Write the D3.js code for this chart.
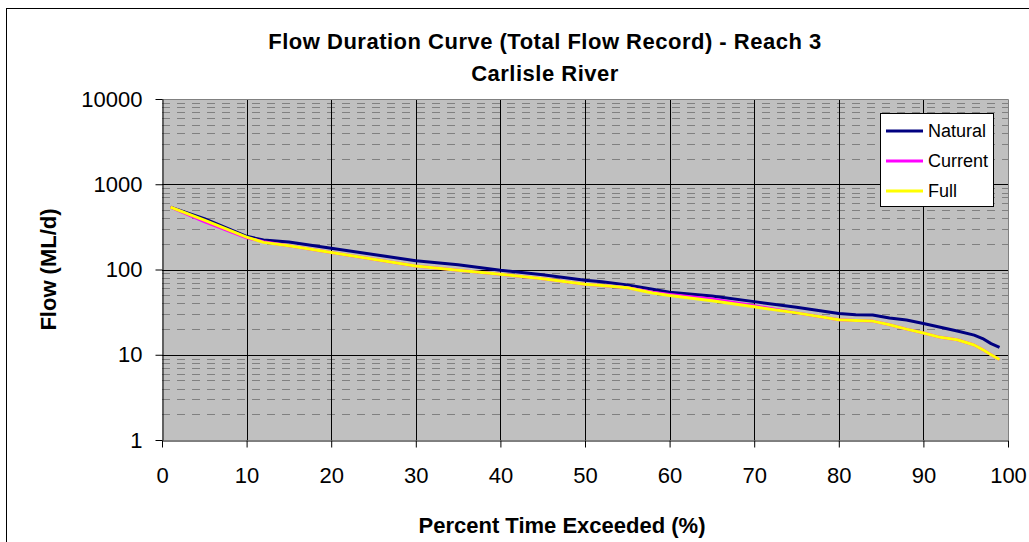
<!DOCTYPE html>
<html>
<head>
<meta charset="utf-8">
<script src="https://cdn.jsdelivr.net/npm/d3@7"></script>
<style>
  body { margin: 0; background: #fff; }
  svg { display: block; font-family: "Liberation Sans", Arial, sans-serif; }
</style>
</head>
<body>
<svg id="chart" width="1029" height="542"></svg>
<script>
// percent of time exceeded
var percents = [1, 5, 10, 12, 15, 20, 25, 30, 35, 40, 45, 50, 52, 55, 58, 60, 65, 70, 75, 80, 82, 84, 86, 88, 90, 92, 94, 96, 97, 98, 99];

// flow (ML/d) per scenario
var naturalFlow = [540, 395, 245, 222, 210, 178, 150, 127, 114, 98, 87, 75, 72, 66, 58.5, 54, 49, 42, 36, 30.5, 29.5, 29.3, 27, 25.5, 23.3, 21, 19, 17, 15.5, 13.5, 12.2];
var currentFlow = [540, 365, 235, 212, 190, 158, 132, 110, 98, 88, 78, 67, 65, 61, 54, 51, 45, 37.5, 31, 25.7, 25.3, 24.8, 22.5, 20, 18, 16, 15, 13, 11.5, 10, 8.8];
var fullFlow = [540, 380, 240, 208, 190, 158, 132, 110, 98, 88, 78, 67, 65, 61, 53, 49.5, 43, 36.5, 31, 25.7, 25.3, 24.8, 22.5, 20, 18, 16, 15, 13, 11.5, 10, 8.8];

var seriesNames = ['Natural', 'Current', 'Full'];
var seriesColors = ['#000080', '#ff00ff', '#ffff00'];
var xTicks = [0, 10, 20, 30, 40, 50, 60, 70, 80, 90, 100];
var yTicks = [1, 10, 100, 1000, 10000];

var plot = { left: 162, right: 1008, top: 99, bottom: 440 };

var svg = d3.select('#chart');

// outer chart border (chart area runs past the picture edge)
svg.append('rect')
  .attr('x', 6.5).attr('y', 8.5)
  .attr('width', 1100).attr('height', 600)
  .attr('fill', '#fff').attr('stroke', '#000').attr('stroke-width', 1);

var x = d3.scaleLinear().domain([0, 100]).range([plot.left, plot.right]);
var y = d3.scaleLog().domain([1, 10000]).range([plot.bottom, plot.top]);

svg.append('rect')
  .attr('x', plot.left).attr('y', plot.top)
  .attr('width', plot.right - plot.left).attr('height', plot.bottom - plot.top)
  .attr('fill', '#c0c0c0');

// minor gridlines (2..9 in every decade)
var minorTicks = [];
yTicks.slice(0, -1).forEach(function(d) {
  for (var k = 2; k <= 9; k++) minorTicks.push(d * k);
});

var grid = svg.append('g');
grid.selectAll('.minor').data(minorTicks).enter()
  .append('line').classed('minor', true)
  .attr('x1', plot.left).attr('x2', plot.right)
  .attr('y1', function(d) { return Math.round(y(d)) + 0.5; })
  .attr('y2', function(d) { return Math.round(y(d)) + 0.5; })
  .attr('stroke', '#808080').attr('stroke-dasharray', '8,7');

grid.selectAll('.hmajor').data(yTicks.slice(1, -1)).enter()
  .append('line').classed('hmajor', true)
  .attr('x1', plot.left).attr('x2', plot.right)
  .attr('y1', function(d) { return Math.round(y(d)) + 0.5; })
  .attr('y2', function(d) { return Math.round(y(d)) + 0.5; })
  .attr('stroke', '#000');

grid.selectAll('.vmajor').data(xTicks.slice(1, -1)).enter()
  .append('line').classed('vmajor', true)
  .attr('y1', plot.top).attr('y2', plot.bottom)
  .attr('x1', function(d) { return Math.round(x(d)) + 0.5; })
  .attr('x2', function(d) { return Math.round(x(d)) + 0.5; })
  .attr('stroke', '#000');

// plot border (top / right in gray)
svg.append('path')
  .attr('d', 'M' + plot.left + ',' + (plot.top + 0.5) + 'H' + (plot.right + 0.5) + 'V' + plot.bottom)
  .attr('fill', 'none').attr('stroke', '#808080');

// series lines
var line = d3.line()
  .x(function(d) { return x(d[0]); })
  .y(function(d) { return y(d[1]); });

var allSeries = [naturalFlow, currentFlow, fullFlow].map(function(vals, i) {
  return {
    name: seriesNames[i],
    color: seriesColors[i],
    points: percents.map(function(p, j) { return [p, vals[j]]; })
  };
});

svg.append('g').selectAll('path').data(allSeries).enter()
  .append('path')
  .attr('d', function(s) { return line(s.points); })
  .attr('fill', 'none')
  .attr('stroke', function(s) { return s.color; })
  .attr('stroke-width', 3)
  .attr('stroke-linejoin', 'round');

// axes
var xAxis = svg.append('g')
  .attr('transform', 'translate(0,' + (plot.bottom + 0.5) + ')')
  .call(d3.axisBottom(x).tickValues(xTicks).tickSize(7).tickPadding(20).tickSizeOuter(0));

var yAxis = svg.append('g')
  .attr('transform', 'translate(' + (plot.left + 0.5) + ',0)')
  .call(d3.axisLeft(y).tickValues(yTicks).tickFormat(d3.format('d')).tickSize(7).tickPadding(13).tickSizeOuter(0));

[xAxis, yAxis].forEach(function(ax) {
  ax.select('.domain').attr('stroke', '#000');
  ax.selectAll('.tick line').attr('stroke', '#000');
  ax.selectAll('.tick text')
    .attr('fill', '#000')
    .style('font-size', '22px')
    .style('font-family', '"Liberation Sans", Arial, sans-serif');
});

// titles
var title = svg.append('text')
  .attr('x', 545).attr('text-anchor', 'middle')
  .style('font-size', '22px').style('font-weight', 'bold')
  .style('letter-spacing', '0.5px');
title.append('tspan').attr('x', 545).attr('y', 49).text('Flow Duration Curve (Total Flow Record) - Reach 3');
title.append('tspan').attr('x', 545).attr('y', 81).text('Carlisle River');

svg.append('text')
  .attr('x', 562).attr('y', 533)
  .attr('text-anchor', 'middle')
  .style('font-size', '22px').style('font-weight', 'bold')
  .text('Percent Time Exceeded (%)');

svg.append('text')
  .attr('transform', 'translate(56,' + ((plot.top + plot.bottom) / 2) + ') rotate(-90)')
  .attr('text-anchor', 'middle')
  .style('font-size', '22px').style('font-weight', 'bold')
  .text('Flow (ML/d)');

// legend
var legend = svg.append('g').attr('transform', 'translate(880,113)');
legend.append('rect')
  .attr('x', 0.5).attr('y', 0.5).attr('width', 113).attr('height', 93)
  .attr('fill', '#fff').attr('stroke', '#000');

var items = legend.selectAll('.item').data(allSeries).enter()
  .append('g').classed('item', true)
  .attr('transform', function(d, i) { return 'translate(0,' + (18 + i * 30) + ')'; });

items.append('line')
  .attr('x1', 6).attr('x2', 43)
  .attr('stroke', function(d) { return d.color; })
  .attr('stroke-width', 3);

items.append('text')
  .attr('x', 48).attr('dy', '0.35em')
  .style('font-size', '18px')
  .text(function(d) { return d.name; });
</script>
</body>
</html>
